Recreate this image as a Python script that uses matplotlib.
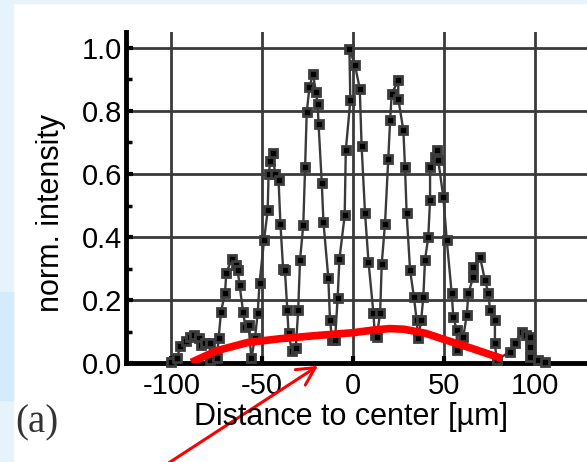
import matplotlib.pyplot as plt
from matplotlib.patches import Rectangle
from matplotlib.ticker import MultipleLocator

plt.rcParams['font.family'] = ['Liberation Sans', 'DejaVu Sans']

dist_um = [
    -100, -97, -95, -92, -90, -87.5, -85, -83.5, -81.5, -79, -78.5,
    -75, -74, -72.7, -70.5, -69.8, -66.8, -64.5, -63.5, -62.5, -60.5, -59.3, -57.5, -56,
    -54, -52.5, -51.5, -49, -47, -46.5, -45.5, -44, -43, -41, -40, -38.5, -37.5, -36.2, -35.5, -33.7,
    -31.5, -30.2, -29.2, -27.4, -26.4, -25.5, -24, -22, -20.5, -19.5, -19, -17.2, -16.3, -13.6, -12.7, -11.5, -9.9,
    -8.5, -7.5, -4.6, -4, -1.5, -2, 1.1, 3.7, 4.7, 6.6, 8.5, 11.2, 12,
    13, 14.9, 15.8, 17.6, 19.4, 20.4, 21.3, 24.9, 24.9, 27.7, 28.6, 29.5, 31.4, 33.5, 35, 35.9,
    37.5, 38.7, 39.6, 41.4, 42.4, 42.4, 45.1, 46.1, 46.9, 49.7, 51.6, 54.3, 55.2, 57.1, 57.1,
    60.7, 62.6, 63.5, 66.2, 66.2, 69.9, 72.6, 74.5, 75.4, 78.1, 78.1, 79.1,
    86.4, 89.2, 92.8, 95, 97.4, 97.4, 97.4, 102, 105.7,
]
intensity = [
    0.005, 0.016, 0.055, 0.07, 0.084, 0.09, 0.08, 0.058, 0.063, 0.063, 0.012,
    0.016, 0.079, 0.163, 0.222, 0.285, 0.332, 0.31, 0.295, 0.248, 0.163, 0.116, 0.12, 0.016,
    0.08, 0.158, 0.253, 0.39, 0.485, 0.60, 0.64, 0.665, 0.60, 0.58, 0.443, 0.30, 0.295, 0.169, 0.095, 0.04,
    0.05, 0.169, 0.327, 0.438, 0.622, 0.796, 0.875, 0.918, 0.86, 0.823, 0.759, 0.57, 0.448, 0.269, 0.137, 0.074, 0.074,
    0.206, 0.33, 0.469, 0.675, 0.833, 0.997, 0.944, 0.87, 0.69, 0.475, 0.322, 0.16, 0.09,
    0.084, 0.158, 0.316, 0.443, 0.649, 0.77, 0.854, 0.897, 0.839, 0.738, 0.622, 0.475, 0.295, 0.211, 0.137, 0.079,
    0.137, 0.211, 0.327, 0.40, 0.517, 0.622, 0.654, 0.675, 0.643, 0.527, 0.39, 0.222, 0.147, 0.105, 0.042,
    0.084, 0.153, 0.222, 0.274, 0.306, 0.337, 0.264, 0.222, 0.169, 0.137, 0.063, 0.01,
    0.037, 0.063, 0.10, 0.09, 0.084, 0.053, 0.021, 0.01, 0.005,
]

# red envelope drawn over the data
env_x = [-89, -75, -58, -40, -20, 0, 12, 20, 28, 40, 52, 65, 82]
env_y = [0.003, 0.04, 0.066, 0.078, 0.088, 0.097, 0.106, 0.11, 0.108, 0.095, 0.072, 0.048, 0.015]

x_ticks = [-100, -50, 0, 50, 100]
y_ticks = [0.0, 0.2, 0.4, 0.6, 0.8, 1.0]
y_labels = ['0.0', '0.2', '0.4', '0.6', '0.8', '1.0']

W, H = 587, 462
fig = plt.figure(figsize=(W / 100, H / 100), dpi=100)

# pale blue page edge from the scan
fig.patches.append(Rectangle((0, 0), 13 / W, 1, transform=fig.transFigure,
                             color='#e7f3fb', zorder=-10))
fig.patches.append(Rectangle((0, 1 - 3 / H), 1, 3 / H, transform=fig.transFigure,
                             color='#e7f3fb', zorder=-10))
fig.patches.append(Rectangle((0, 1 - 400 / H), 13 / W, 108 / H, transform=fig.transFigure,
                             color='#d4ebfb', zorder=-9))

ax = fig.add_axes([126 / W, 1 - 363.3 / H, 1 - 126 / W, (363.3 - 32) / H])
ax.set_xlim(-125, 128.8)
ax.set_ylim(0, 1.05)

ax.grid(True, color='#3a3a3a', linewidth=2.0)
ax.set_axisbelow(True)

ax.plot(dist_um, intensity, color='#3a3a3a', linewidth=1.7, marker='s',
        markersize=6.3, markerfacecolor='black', markeredgecolor='#3c3c3c',
        markeredgewidth=2.0, clip_on=False, zorder=3)
ax.plot(env_x, env_y, color='#ff0000', linewidth=5.5, solid_capstyle='butt', zorder=4)

ax.annotate('', xy=(-19.3, -0.008), xytext=(-111.7, -0.354),
            arrowprops=dict(arrowstyle='->, head_length=0.64, head_width=0.33',
                            color='#ff0000', lw=2.2, mutation_scale=20,
                            shrinkA=0, shrinkB=0),
            annotation_clip=False, zorder=5)

for side in ['top', 'right']:
    ax.spines[side].set_visible(False)
for side in ['left', 'bottom']:
    ax.spines[side].set_linewidth(3.5)
    ax.spines[side].set_color('black')

ax.set_xticks(x_ticks)
ax.set_xticklabels([str(t) for t in x_ticks])
ax.set_yticks(y_ticks)
ax.set_yticklabels(y_labels)
ax.yaxis.set_minor_locator(MultipleLocator(0.1))
ax.tick_params(which='both', direction='in', labelsize=21, color='black')
ax.tick_params(which='major', length=5, width=3)
ax.tick_params(which='minor', length=4, width=2.5)
ax.tick_params(axis='x', pad=6)
ax.tick_params(axis='y', pad=3)

fig.text(351 / W, 1 - 417 / H, 'Distance to center [µm]', ha='center', va='center', fontsize=22)
fig.text(51 / W, 1 - 213 / H, 'norm. intensity', ha='center', va='center',
         rotation=90, fontsize=22)
fig.text(37 / W, 1 - 423 / H, '(a)', ha='center', va='center', fontsize=28,
         family=['Liberation Serif', 'DejaVu Serif'], color='#333333')

fig.savefig('out.png', dpi=100)
